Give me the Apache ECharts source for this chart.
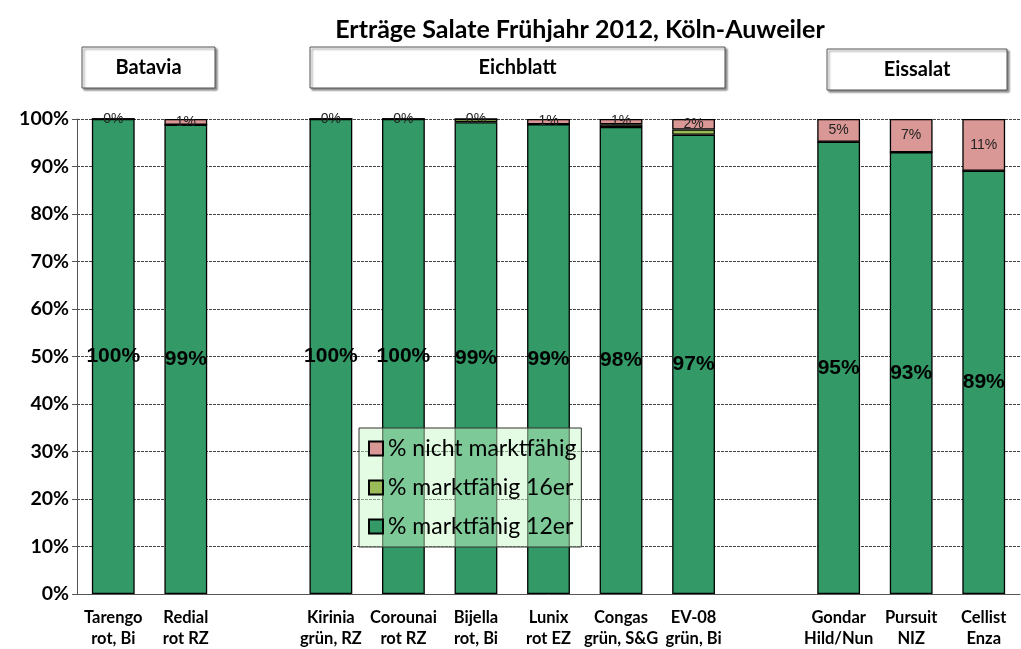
<!DOCTYPE html>
<html>
<head>
<meta charset="utf-8">
<script src="https://cdn.jsdelivr.net/npm/echarts@6/dist/echarts.min.js"></script>
<style>
  html, body { margin: 0; padding: 0; background: #fff; }
  #chart { width: 1021px; height: 649px; }
</style>
</head>
<body>
<div id="chart"></div>
<script>
// Sorten (leere Einträge = Lücke zwischen den Gruppen)
var categories = [
  'Tarengo\nrot, Bi', 'Redial\nrot RZ', '',
  'Kirinia\ngrün, RZ', 'Corounai\nrot RZ', 'Bijella\nrot, Bi', 'Lunix\nrot EZ', 'Congas\ngrün, S&G', 'EV-08\ngrün, Bi', '',
  'Gondar\nHild/Nun', 'Pursuit\nNIZ', 'Cellist\nEnza'
];
var markt12 = [100, 98.8, '-', 100, 100, 99.3, 98.9, 98.3, 96.7, '-', 95.2, 93.0, 89.1];
var markt16 = [0, 0, '-', 0, 0, 0.7, 0, 0.6, 1.1, '-', 0, 0, 0];
var nicht   = [0, 1.2, '-', 0, 0, 0, 1.1, 1.1, 2.2, '-', 4.8, 7.0, 10.9];

var groups = [
  { name: 'Batavia', x: 82, y: 47, w: 133, h: 41 },
  { name: 'Eichblatt', x: 310, y: 47, w: 415, h: 41 },
  { name: 'Eissalat', x: 827, y: 49, w: 180, h: 41 }
];

var chart = echarts.init(document.getElementById('chart'));

var pct = function (p) { return Math.round(p.value) + '%'; };

var graphic = [{
  type: 'text', x: 580, y: 30,
  style: { text: 'Erträge Salate Frühjahr 2012, Köln-Auweiler', align: 'center', verticalAlign: 'middle',
    font: 'bold 25px Lato', fill: '#000' }
}];
groups.forEach(function (g) {
  graphic.push({
    type: 'rect', shape: { x: g.x, y: g.y, width: g.w, height: g.h },
    style: { fill: '#fff', stroke: '#555', lineWidth: 1,
      shadowColor: 'rgba(0,0,0,0.45)', shadowBlur: 2, shadowOffsetX: 2, shadowOffsetY: 2 }
  });
  graphic.push({
    type: 'text', x: g.x + g.w / 2, y: g.y + g.h / 2,
    style: { text: g.name, align: 'center', verticalAlign: 'middle', font: 'bold 20px Lato', fill: '#000' }
  });
});

var option = {
  animation: false,
  grid: { left: 77, right: 1, top: 119, bottom: 55 },
  graphic: graphic,
  legend: {
    data: ['% nicht marktfähig', '% marktfähig 16er', '% marktfähig 12er'],
    orient: 'vertical', left: 359, top: 428,
    backgroundColor: 'rgba(200,250,200,0.5)', borderColor: '#333', borderWidth: 1,
    padding: [9, 5, 9, 9], itemGap: 16, itemWidth: 14, itemHeight: 14,
    icon: 'rect',
    textStyle: { fontFamily: 'Lato', fontSize: 23, color: '#000' }
  },
  xAxis: {
    type: 'category', data: categories,
    axisLine: { lineStyle: { color: '#555' } },
    axisTick: { interval: 0, length: 5, lineStyle: { color: '#555' } },
    axisLabel: { interval: 0, fontFamily: 'Lato', fontWeight: 'bold', fontSize: 16.5, color: '#000',
      lineHeight: 21, margin: 13 }
  },
  yAxis: {
    type: 'value', min: 0, max: 100, interval: 10,
    axisLine: { show: true, lineStyle: { color: '#555' } },
    axisTick: { show: true, length: 5, lineStyle: { color: '#555' } },
    axisLabel: { formatter: '{value}%', fontFamily: 'Lato', fontWeight: 'bold', fontSize: 19.5, color: '#000', margin: 8 },
    splitLine: { lineStyle: { type: [3, 1], color: '#444' } }
  },
  series: [{
    name: '% marktfähig 12er', type: 'bar', stack: 'a', data: markt12, barCategoryGap: '41%',
    itemStyle: { color: '#339966', borderColor: '#000', borderWidth: 1.3 },
    label: { show: true, position: 'inside', formatter: pct,
      fontFamily: 'Liberation Sans', fontWeight: 'bold', fontSize: 21, color: '#000' }
  }, {
    name: '% marktfähig 16er', type: 'bar', stack: 'a', data: markt16,
    itemStyle: { color: '#9bbb59', borderColor: '#000', borderWidth: 1.3 }
  }, {
    name: '% nicht marktfähig', type: 'bar', stack: 'a', data: nicht,
    itemStyle: { color: '#d99795', borderColor: '#000', borderWidth: 1.3 },
    label: { show: true, position: 'inside', formatter: pct,
      fontFamily: 'Liberation Sans', fontSize: 14, color: '#222' }
  }]
};

chart.setOption(option);
</script>
</body>
</html>
